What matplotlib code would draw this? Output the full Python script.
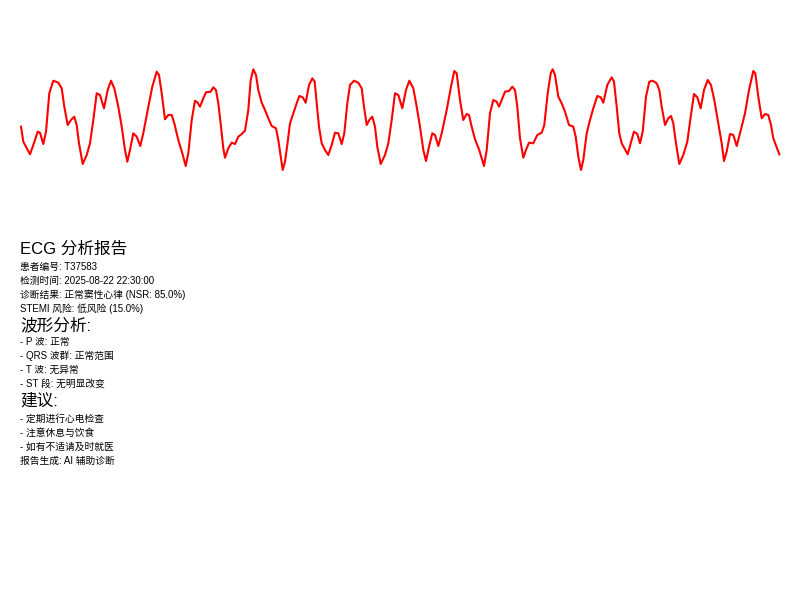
import matplotlib
matplotlib.use('Agg')
import matplotlib.pyplot as plt

# ECG trace (time in s, amplitude in mV)
t = [0.01, 0.033, 0.10, 0.133, 0.177, 0.20, 0.233, 0.26, 0.293, 0.333,
     0.383, 0.417, 0.443, 0.477, 0.51, 0.543, 0.567, 0.59, 0.627, 0.667,
     0.70, 0.733, 0.767, 0.80, 0.84, 0.877, 0.91, 0.943, 0.983, 1.017,
     1.05, 1.073, 1.10, 1.133, 1.167, 1.203, 1.233, 1.277, 1.323, 1.367,
     1.39, 1.417, 1.45, 1.483, 1.517, 1.543, 1.583, 1.623, 1.657, 1.683,
     1.717, 1.75, 1.777, 1.80, 1.833, 1.86, 1.907, 1.933, 1.96, 1.983,
     2.01, 2.033, 2.05, 2.083, 2.117, 2.15, 2.183, 2.217, 2.25, 2.283,
     2.307, 2.333, 2.36, 2.383, 2.417, 2.45, 2.483, 2.517, 2.56, 2.583,
     2.607, 2.627, 2.65, 2.673, 2.70, 2.733, 2.767, 2.793, 2.827, 2.857,
     2.89, 2.923, 2.947, 2.967, 2.99, 3.017, 3.05, 3.083, 3.117, 3.15,
     3.183, 3.217, 3.243, 3.273, 3.30, 3.34, 3.383, 3.417, 3.44, 3.467,
     3.493, 3.523, 3.55, 3.573, 3.607, 3.65, 3.683, 3.717, 3.75, 3.783,
     3.823, 3.86, 3.893, 3.933, 3.967, 4.00, 4.033, 4.06, 4.09, 4.123,
     4.15, 4.183, 4.217, 4.267, 4.31, 4.343, 4.367, 4.40, 4.433, 4.467,
     4.49, 4.517, 4.55, 4.59, 4.64, 4.667, 4.70, 4.733, 4.767, 4.79,
     4.817, 4.85, 4.89, 4.923, 4.95, 4.973, 5.00, 5.033, 5.06, 5.09,
     5.133, 5.173, 5.217, 5.243, 5.277, 5.307, 5.327, 5.35, 5.383, 5.417,
     5.45, 5.49, 5.533, 5.557, 5.583, 5.61, 5.633, 5.667, 5.70, 5.733,
     5.773, 5.807, 5.833, 5.873, 5.917, 5.94, 5.967, 5.993, 6.017, 6.05,
     6.077, 6.107, 6.14, 6.173, 6.20, 6.227, 6.26, 6.293, 6.327, 6.367,
     6.393, 6.417, 6.45, 6.483, 6.51, 6.533, 6.56, 6.593, 6.633, 6.673,
     6.707, 6.74, 6.773, 6.807, 6.84, 6.877, 6.91, 6.943, 6.983, 7.017,
     7.04, 7.067, 7.10, 7.133, 7.167, 7.20, 7.25, 7.29, 7.333, 7.353,
     7.383, 7.417, 7.45, 7.483, 7.51, 7.533, 7.567, 7.593]
mv = [-0.134, -0.434, -0.686, -0.50, -0.234, -0.254, -0.48, -0.234, 0.534, 0.786,
      0.746, 0.634, 0.266, -0.10, 0.0, 0.066, -0.10, -0.466, -0.88, -0.70,
      -0.466, 0.0, 0.534, 0.50, 0.234, 0.60, 0.786, 0.634, 0.266, -0.134,
      -0.60, -0.834, -0.60, -0.266, -0.334, -0.52, -0.266, 0.20, 0.666, 0.966,
      0.90, 0.534, 0.014, 0.10, 0.10, -0.066, -0.40, -0.666, -0.92, -0.666,
      0.0, 0.386, 0.346, 0.266, 0.434, 0.554, 0.566, 0.654, 0.60, 0.334,
      -0.134, -0.566, -0.754, -0.566, -0.454, -0.48, -0.334, -0.28, -0.214, 0.20,
      0.80, 1.014, 0.90, 0.60, 0.346, 0.20, 0.034, -0.12, -0.166, -0.40,
      -0.734, -1.00, -0.834, -0.50, -0.066, 0.134, 0.334, 0.48, 0.454, 0.346,
      0.70, 0.834, 0.766, 0.334, -0.134, -0.466, -0.60, -0.70, -0.50, -0.254,
      -0.266, -0.48, -0.266, 0.334, 0.70, 0.786, 0.746, 0.634, 0.266, -0.10,
      0.0, 0.066, -0.134, -0.534, -0.88, -0.70, -0.466, 0.0, 0.534, 0.50,
      0.234, 0.60, 0.786, 0.634, 0.266, -0.134, -0.60, -0.82, -0.534, -0.266,
      -0.30, -0.52, -0.266, 0.20, 0.666, 0.98, 0.934, 0.40, 0.0, 0.12,
      0.10, -0.134, -0.386, -0.586, -0.92, -0.60, 0.134, 0.40, 0.366, 0.266,
      0.40, 0.566, 0.58, 0.666, 0.60, 0.266, -0.366, -0.754, -0.60, -0.454,
      -0.466, -0.30, -0.254, -0.10, 0.534, 0.934, 1.014, 0.90, 0.466, 0.334,
      0.166, -0.10, -0.134, -0.334, -0.734, -1.00, -0.80, -0.266, 0.0, 0.234,
      0.48, 0.454, 0.346, 0.70, 0.854, 0.766, 0.266, -0.266, -0.466, -0.586,
      -0.686, -0.466, -0.234, -0.28, -0.466, -0.234, 0.466, 0.766, 0.786, 0.734,
      0.60, 0.266, -0.10, 0.034, 0.08, -0.066, -0.466, -0.88, -0.70, -0.434,
      0.066, 0.52, 0.454, 0.234, 0.60, 0.80, 0.70, 0.40, -0.066, -0.466,
      -0.82, -0.634, -0.28, -0.30, -0.52, -0.266, 0.134, 0.60, 0.98, 0.934,
      0.466, 0.034, 0.12, 0.10, -0.10, -0.366, -0.546, -0.686]

title = 'ECG 分析报告'
info_lines = ['患者编号: T37583',
              '检测时间: 2025-08-22 22:30:00',
              '诊断结果: 正常窦性心律 (NSR: 85.0%)',
              'STEMI 风险: 低风险 (15.0%)']
wave_header = '波形分析:'
wave_lines = ['- P 波: 正常',
              '- QRS 波群: 正常范围',
              '- T 波: 无异常',
              '- ST 段: 无明显改变']
advice_header = '建议:'
advice_lines = ['- 定期进行心电检查',
                '- 注意休息与饮食',
                '- 如有不适请及时就医',
                '报告生成: AI 辅助诊断']

fonts = ['Liberation Sans', 'Noto Sans CJK SC', 'DejaVu Sans']
plt.rcParams['font.family'] = fonts

fig = plt.figure(figsize=(8, 6), dpi=100)

ax = fig.add_axes([21 / 800, 1 - 170 / 600, (779.3 - 21) / 800, (170 - 69.3) / 600])
ax.plot(t, mv, color='red', linewidth=1.5, clip_on=False)
ax.set_xlim(min(t), max(t))
ax.set_ylim(min(mv), max(mv))
ax.axis('off')

def put(text, y_px, size):
    fig.text(20 / 800, 1 - y_px / 600, text, fontsize=size, va='baseline', ha='left')

put(title, 254, 12)
for i, line in enumerate(info_lines):
    put(line, 270 + 14 * i, 7)
put(wave_header, 330.5, 12)
for i, line in enumerate(wave_lines):
    put(line, 345 + 14 * i, 7)
put(advice_header, 405.5, 12)
for i, line in enumerate(advice_lines):
    put(line, 422 + 14 * i, 7)

fig.savefig('out.png', dpi=100)
